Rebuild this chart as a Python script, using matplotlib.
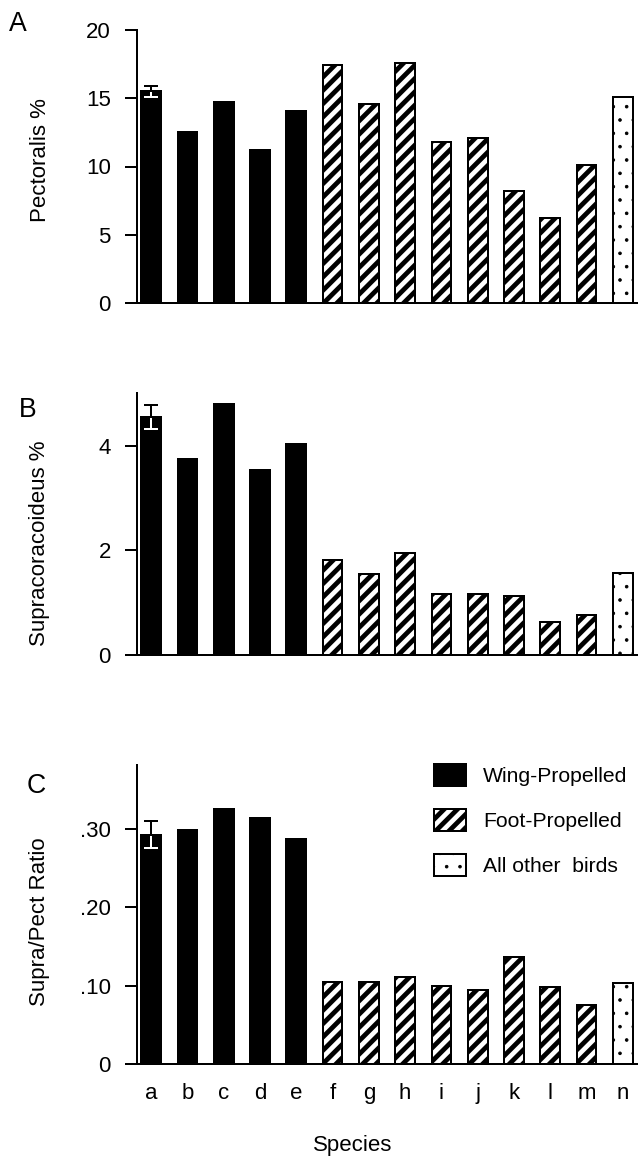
import matplotlib
matplotlib.use('Agg')
import matplotlib.pyplot as plt
import numpy as np

plt.rcParams['font.family'] = ['Liberation Sans', 'DejaVu Sans']
plt.rcParams['hatch.linewidth'] = 4.3

# data
species = list('abcdefghijklmn')
group = ['wing'] * 5 + ['foot'] * 8 + ['other']
pectoralis = [15.5, 12.5, 14.7, 11.2, 14.1, 17.4, 14.6, 17.6, 11.8, 12.1, 8.2, 6.2, 10.1, 15.1]
supracoracoideus = [4.56, 3.74, 4.80, 3.53, 4.04, 1.82, 1.54, 1.95, 1.17, 1.16, 1.13, 0.64, 0.76, 1.56]
supra_pect_ratio = [0.293, 0.299, 0.326, 0.314, 0.288, 0.105, 0.105, 0.111, 0.100, 0.095,
                    0.137, 0.098, 0.076, 0.104]
# error bar on species a only
err_a = [0.42, 0.23, 0.017]

group_labels = {'wing': 'Wing-Propelled', 'foot': 'Foot-Propelled', 'other': 'All other  birds'}
group_style = {
    'wing': dict(facecolor='black', hatch=None),
    'foot': dict(facecolor='white', hatch='//'),
    'other': dict(facecolor='white', hatch='.'),
}
hatch_lw = {'wing': 4.3, 'foot': 4.3, 'other': 0.8}

FS = 20
W, H = 642, 1156
DPI = 80
fig = plt.figure(figsize=(W / DPI, H / DPI), dpi=DPI)


def px_axes(top, bottom, left=137, right=637):
    return fig.add_axes([left / W, 1 - bottom / H, (right - left) / W, (bottom - top) / H])


def panel(ax, values, err, ylim, yticks, yticklabels, ylabel, ylabel_y, letter, letter_xy):
    x = np.arange(len(species))
    for g in ['wing', 'foot', 'other']:
        idx = [i for i, gg in enumerate(group) if gg == g]
        with plt.rc_context({'hatch.linewidth': hatch_lw[g]}):
            bars = ax.bar(x[idx], [values[i] for i in idx], width=0.54, edgecolor='black',
                          linewidth=1.8, label=group_labels[g], **group_style[g])
        for b in bars:
            if hasattr(b, 'set_hatch_linewidth'):
                b.set_hatch_linewidth(hatch_lw[g])
    # lower half of error bar sits inside the black bar -> white
    ax.errorbar([0], [values[0]], yerr=[[err], [0]], fmt='none', ecolor='white',
                elinewidth=1.8, capsize=6.5, capthick=1.8)
    ax.errorbar([0], [values[0]], yerr=[[0], [err]], fmt='none', ecolor='black',
                elinewidth=1.8, capsize=6.5, capthick=1.8)
    ax.set_xlim(-0.39, 13.39)
    ax.set_ylim(*ylim)
    ax.set_yticks(yticks)
    ax.set_yticklabels(yticklabels)
    for s in ['top', 'right']:
        ax.spines[s].set_visible(False)
    for s in ['left', 'bottom']:
        ax.spines[s].set_linewidth(1.8)
    ax.tick_params(axis='y', length=10.5, width=1.8, pad=13, labelsize=FS)
    ax.tick_params(axis='x', length=0, pad=17, labelsize=FS)
    ax.set_xticks(x)
    ax.set_xticklabels([])
    fig.text(40 / W, 1 - ylabel_y / H, ylabel, rotation=90, ha='center', va='center', fontsize=FS)
    fig.text(letter_xy[0] / W, 1 - letter_xy[1] / H, letter, ha='center', va='center', fontsize=24)


axA = px_axes(30, 303)
panel(axA, pectoralis, err_a[0], (0, 20), [0, 5, 10, 15, 20], ['0', '5', '10', '15', '20'],
      'Pectoralis %', 160, 'A', (18, 24))

axB = px_axes(393, 655)
panel(axB, supracoracoideus, err_a[1], (0, 5.01), [0, 2, 4], ['0', '2', '4'],
      'Supracoracoideus %', 543, 'B', (28, 410))

axC = px_axes(765, 1064)
panel(axC, supra_pect_ratio, err_a[2], (0, 0.382), [0, 0.1, 0.2, 0.3], ['0', '.10', '.20', '.30'],
      'Supra/Pect Ratio', 922, 'C', (36, 786))
axC.set_xticklabels(species)

fig.text(353 / W, 1 - 1146 / H, 'Species', ha='center', va='center', fontsize=FS)

leg = axC.legend(loc='upper left', bbox_to_anchor=(434 / W, 1 - 764 / H),
                 bbox_transform=fig.transFigure, frameon=False, fontsize=19,
                 handlelength=1.52, handleheight=1.2, handletextpad=0.8,
                 labelspacing=1.1, borderpad=0, borderaxespad=0)
for p, g in zip(leg.get_patches(), ['wing', 'foot', 'other']):
    if hasattr(p, 'set_hatch_linewidth'):
        p.set_hatch_linewidth(hatch_lw[g])

fig.savefig('out.png', dpi=DPI)
